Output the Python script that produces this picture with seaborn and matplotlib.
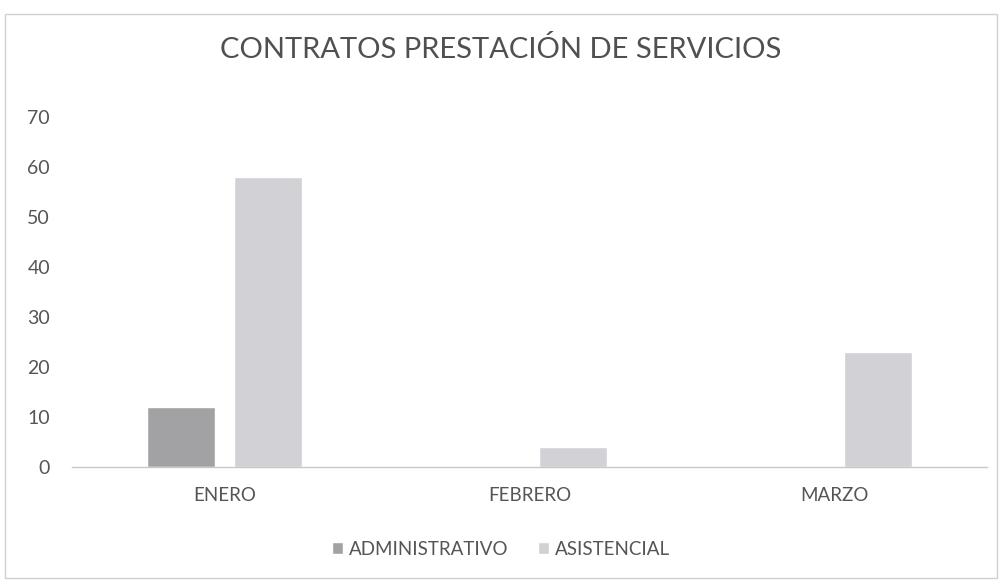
import matplotlib
matplotlib.use("Agg")
import matplotlib.pyplot as plt
import seaborn as sns
import pandas as pd
from matplotlib.patches import Rectangle

months = ["ENERO", "FEBRERO", "MARZO"]
administrativo = [12, 0, 0]
asistencial = [58, 4, 23]
series_names = ["ADMINISTRATIVO", "ASISTENCIAL"]
yticks = [0, 10, 20, 30, 40, 50, 60, 70]

df = pd.DataFrame({
    "mes": months * 2,
    "tipo": [series_names[0]] * 3 + [series_names[1]] * 3,
    "valor": administrativo + asistencial,
})

sns.set_theme(style="white")
plt.rcParams["font.family"] = ["Lato", "DejaVu Sans"]

fig = plt.figure(figsize=(10.02, 5.81), dpi=100)
ax = fig.add_axes([0.072, 0.196, 0.913, 0.603])

palette = {series_names[0]: "#a2a2a4", series_names[1]: "#d2d2d6"}
sns.barplot(data=df, x="mes", y="valor", hue="tipo", order=months,
            hue_order=series_names, palette=palette, width=0.57, gap=0.21,
            saturation=1, ax=ax, legend=True)

ax.set_ylim(0, 70)
ax.set_yticks(yticks)
ax.set_xlim(-0.5, 2.5)
ax.set_xlabel("")
ax.set_ylabel("")
for s in ["left", "right", "top"]:
    ax.spines[s].set_visible(False)
ax.spines["bottom"].set_color("#c8c8c8")
ax.spines["bottom"].set_linewidth(1.0)
ax.tick_params(axis="y", length=0, pad=16, labelsize=14, labelcolor="#555555")
ax.tick_params(axis="x", length=0, pad=14, labelsize=13.5, labelcolor="#555555")

handles, labels = ax.get_legend_handles_labels()
ax.legend_.remove()
fig.legend(handles, labels, loc="center", bbox_to_anchor=(0.5, 0.055), ncol=2,
           frameon=False, fontsize=13.5, handlelength=0.6, handleheight=0.6,
           handletextpad=0.3, columnspacing=1.6, labelcolor="#555555")

fig.text(0.5, 0.915, "CONTRATOS PRESTACIÓN DE SERVICIOS", ha="center", va="center",
         fontsize=21, color="#505050")

fig.patches.append(Rectangle((0.005, 0.006), 0.99, 0.97, transform=fig.transFigure,
                             fill=False, edgecolor="#d0d0d0", linewidth=1.0))

fig.savefig("out.png", dpi=100)
